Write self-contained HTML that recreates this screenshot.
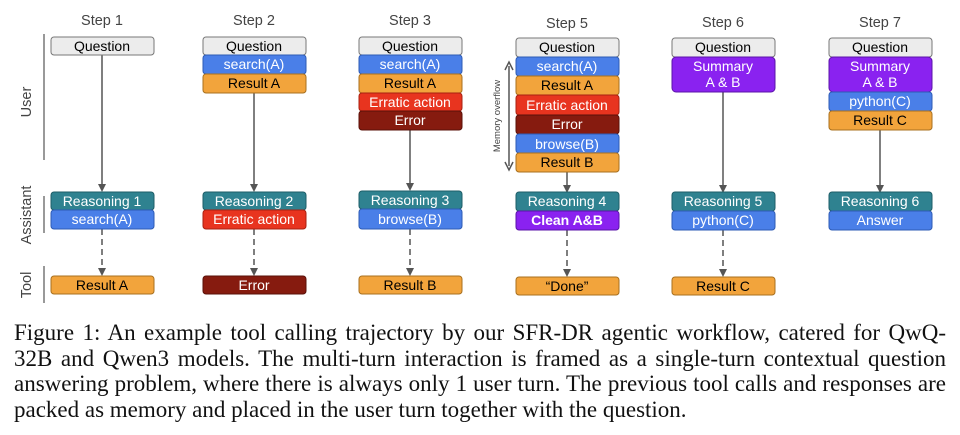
<!DOCTYPE html>
<html><head><meta charset="utf-8"><style>
html,body{margin:0;padding:0;background:#fff;width:960px;height:435px;overflow:hidden}
.cap{position:absolute;left:14px;top:320px;width:932px;font-family:"Liberation Serif",serif;font-size:23px;line-height:25.7px;color:#111}
.cap div{text-align:justify;text-align-last:justify;white-space:nowrap}
.cap div.l{text-align-last:left}
svg text{font-family:"Liberation Sans",sans-serif}
</style></head><body>
<svg width="960" height="318" style="position:absolute;left:0;top:0">
<defs>
<marker id="ah" markerWidth="8" markerHeight="8" refX="6" refY="4" orient="auto" markerUnits="userSpaceOnUse"><path d="M0,0 L8,4 L0,8z" fill="#555"/></marker>
</defs>
<g font-size="14.5" fill="#444" text-anchor="middle">
<text x="102" y="25">Step 1</text><text x="254" y="25">Step 2</text><text x="410" y="25">Step 3</text>
<text x="567" y="28">Step 5</text><text x="723" y="27">Step 6</text><text x="880" y="27">Step 7</text>
</g>
<g stroke="#555" stroke-width="1.2">
<line x1="44" y1="34" x2="44" y2="160"/><line x1="44" y1="196" x2="44" y2="233"/><line x1="44" y1="266" x2="44" y2="303"/>
</g>
<g font-size="14.5" fill="#444" text-anchor="middle">
<text transform="translate(31,102) rotate(-90)">User</text>
<text transform="translate(31,215) rotate(-90)">Assistant</text>
<text transform="translate(31,285) rotate(-90)">Tool</text>
</g>
<g stroke="#555" stroke-width="1.5" fill="none">
<line x1="102" y1="55" x2="102" y2="190" marker-end="url(#ah)"/>
<line x1="254" y1="93" x2="254" y2="190" marker-end="url(#ah)"/>
<line x1="410" y1="130" x2="410" y2="189" marker-end="url(#ah)"/>
<line x1="567" y1="172" x2="567" y2="191" marker-end="url(#ah)"/>
<line x1="723" y1="92" x2="723" y2="191" marker-end="url(#ah)"/>
<line x1="880" y1="130" x2="880" y2="191" marker-end="url(#ah)"/>
<g stroke-dasharray="6,4">
<line x1="102" y1="229" x2="102" y2="274" marker-end="url(#ah)"/>
<line x1="254" y1="229" x2="254" y2="274" marker-end="url(#ah)"/>
<line x1="410" y1="229" x2="410" y2="274" marker-end="url(#ah)"/>
<line x1="567" y1="230" x2="567" y2="275" marker-end="url(#ah)"/>
<line x1="723" y1="230" x2="723" y2="275" marker-end="url(#ah)"/>
</g>
<line x1="509" y1="66" x2="509" y2="166"/>
<path d="M505,70 L509,62 L513,70 M505,162 L509,170 L513,162" fill="none"/>
</g>
<text transform="translate(500,116) rotate(-90)" font-size="9.5" fill="#444" text-anchor="middle">Memory overflow</text>
<g font-size="14" text-anchor="middle">
<!-- Step1 -->
<rect x="51" y="37" width="103" height="18" rx="3" fill="#ececec" stroke="#777"/><text x="102" y="51" fill="#000">Question</text>
<rect x="51" y="192" width="103" height="18" rx="3" fill="#2f8290" stroke="#1e5d67"/><text x="102" y="206" fill="#fff">Reasoning 1</text>
<rect x="51" y="210" width="103" height="19" rx="3" fill="#4a7fe8" stroke="#2d5bb5"/><text x="102" y="224" fill="#fff">search(A)</text>
<rect x="51" y="276" width="103" height="18" rx="3" fill="#f2a43c" stroke="#a8701f"/><text x="102" y="290" fill="#000">Result A</text>
<!-- Step2 -->
<rect x="203" y="37" width="103" height="18" rx="3" fill="#ececec" stroke="#777"/><text x="254" y="51" fill="#000">Question</text>
<rect x="203" y="55" width="103" height="19" rx="3" fill="#4a7fe8" stroke="#2d5bb5"/><text x="254" y="69" fill="#fff">search(A)</text>
<rect x="203" y="74" width="103" height="19" rx="3" fill="#f2a43c" stroke="#a8701f"/><text x="254" y="88" fill="#000">Result A</text>
<rect x="203" y="192" width="103" height="18" rx="3" fill="#2f8290" stroke="#1e5d67"/><text x="254" y="206" fill="#fff">Reasoning 2</text>
<rect x="203" y="210" width="103" height="19" rx="3" fill="#e8341f" stroke="#a82010"/><text x="254" y="224" fill="#fff">Erratic action</text>
<rect x="203" y="276" width="103" height="18" rx="3" fill="#861b0f" stroke="#5a1008"/><text x="254" y="290" fill="#fff">Error</text>
<!-- Step3 -->
<rect x="359" y="37" width="103" height="18" rx="3" fill="#ececec" stroke="#777"/><text x="410" y="51" fill="#000">Question</text>
<rect x="359" y="55" width="103" height="19" rx="3" fill="#4a7fe8" stroke="#2d5bb5"/><text x="410" y="69" fill="#fff">search(A)</text>
<rect x="359" y="74" width="103" height="19" rx="3" fill="#f2a43c" stroke="#a8701f"/><text x="410" y="88" fill="#000">Result A</text>
<rect x="359" y="93" width="103" height="18" rx="3" fill="#e8341f" stroke="#a82010"/><text x="410" y="107" fill="#fff">Erratic action</text>
<rect x="359" y="111" width="103" height="19" rx="3" fill="#861b0f" stroke="#5a1008"/><text x="410" y="125" fill="#fff">Error</text>
<rect x="359" y="191" width="103" height="18" rx="3" fill="#2f8290" stroke="#1e5d67"/><text x="410" y="205" fill="#fff">Reasoning 3</text>
<rect x="359" y="209" width="103" height="20" rx="3" fill="#4a7fe8" stroke="#2d5bb5"/><text x="410" y="224" fill="#fff">browse(B)</text>
<rect x="359" y="276" width="103" height="18" rx="3" fill="#f2a43c" stroke="#a8701f"/><text x="410" y="290" fill="#000">Result B</text>
<!-- Step5 -->
<rect x="516" y="38" width="103" height="19" rx="3" fill="#ececec" stroke="#777"/><text x="567" y="52" fill="#000">Question</text>
<rect x="516" y="57" width="103" height="19" rx="3" fill="#4a7fe8" stroke="#2d5bb5"/><text x="567" y="71" fill="#fff">search(A)</text>
<rect x="516" y="76" width="103" height="19" rx="3" fill="#f2a43c" stroke="#a8701f"/><text x="567" y="90" fill="#000">Result A</text>
<rect x="516" y="95" width="103" height="20" rx="3" fill="#e8341f" stroke="#a82010"/><text x="567" y="110" fill="#fff">Erratic action</text>
<rect x="516" y="115" width="103" height="19" rx="3" fill="#861b0f" stroke="#5a1008"/><text x="567" y="129" fill="#fff">Error</text>
<rect x="516" y="134" width="103" height="19" rx="3" fill="#4a7fe8" stroke="#2d5bb5"/><text x="567" y="149" fill="#fff">browse(B)</text>
<rect x="516" y="153" width="103" height="19" rx="3" fill="#f2a43c" stroke="#a8701f"/><text x="567" y="167" fill="#000">Result B</text>
<rect x="516" y="192" width="103" height="19" rx="3" fill="#2f8290" stroke="#1e5d67"/><text x="567" y="206" fill="#fff">Reasoning 4</text>
<rect x="516" y="211" width="103" height="19" rx="3" fill="#8a22f0" stroke="#5b14a8"/><text x="567" y="225" fill="#fff" font-weight="bold">Clean A&amp;B</text>
<rect x="516" y="277" width="103" height="18" rx="3" fill="#f2a43c" stroke="#a8701f"/><text x="567" y="291" fill="#000">“Done”</text>
<!-- Step6 -->
<rect x="672" y="38" width="103" height="19" rx="3" fill="#ececec" stroke="#777"/><text x="723" y="52" fill="#000">Question</text>
<rect x="672" y="57" width="103" height="35" rx="4" fill="#8a22f0" stroke="#5b14a8"/><text x="723" y="71" fill="#fff">Summary</text><text x="723" y="87" fill="#fff">A &amp; B</text>
<rect x="672" y="192" width="103" height="19" rx="3" fill="#2f8290" stroke="#1e5d67"/><text x="723" y="206" fill="#fff">Reasoning 5</text>
<rect x="672" y="211" width="103" height="19" rx="3" fill="#4a7fe8" stroke="#2d5bb5"/><text x="723" y="225" fill="#fff">python(C)</text>
<rect x="672" y="277" width="103" height="18" rx="3" fill="#f2a43c" stroke="#a8701f"/><text x="723" y="291" fill="#000">Result C</text>
<!-- Step7 -->
<rect x="829" y="38" width="103" height="19" rx="3" fill="#ececec" stroke="#777"/><text x="880" y="52" fill="#000">Question</text>
<rect x="829" y="57" width="103" height="35" rx="4" fill="#8a22f0" stroke="#5b14a8"/><text x="880" y="71" fill="#fff">Summary</text><text x="880" y="87" fill="#fff">A &amp; B</text>
<rect x="829" y="92" width="103" height="19" rx="3" fill="#4a7fe8" stroke="#2d5bb5"/><text x="880" y="106" fill="#fff">python(C)</text>
<rect x="829" y="111" width="103" height="19" rx="3" fill="#f2a43c" stroke="#a8701f"/><text x="880" y="125" fill="#000">Result C</text>
<rect x="829" y="192" width="103" height="19" rx="3" fill="#2f8290" stroke="#1e5d67"/><text x="880" y="206" fill="#fff">Reasoning 6</text>
<rect x="829" y="211" width="103" height="19" rx="3" fill="#4a7fe8" stroke="#2d5bb5"/><text x="880" y="225" fill="#fff">Answer</text>
</g>
</svg>
<div class="cap">
<div>Figure 1: An example tool calling trajectory by our SFR-DR agentic workflow, catered for QwQ-</div>
<div>32B and Qwen3 models. The multi-turn interaction is framed as a single-turn contextual question</div>
<div>answering problem, where there is always only 1 user turn. The previous tool calls and responses are</div>
<div class="l">packed as memory and placed in the user turn together with the question.</div>
</div>
</body></html>
